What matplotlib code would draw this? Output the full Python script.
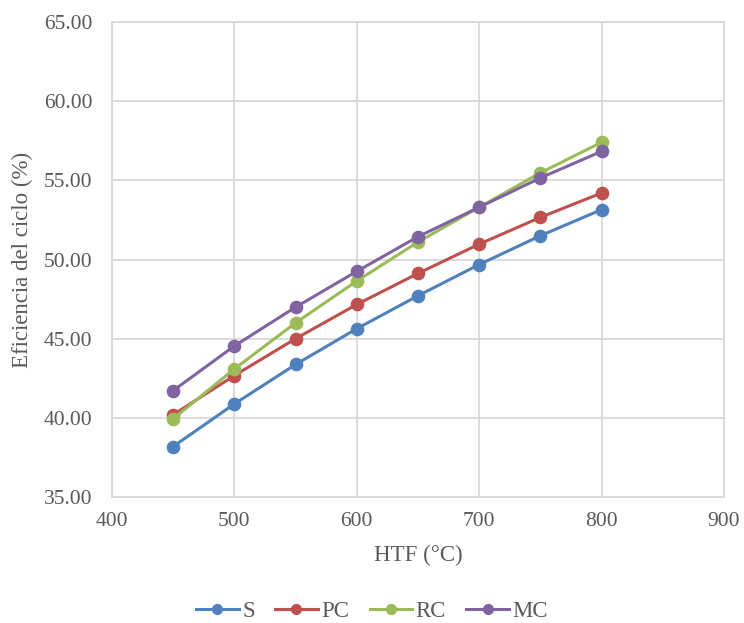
import numpy as np
import matplotlib
matplotlib.use('Agg')
import matplotlib.pyplot as plt

plt.rcParams['font.family'] = ['Liberation Serif', 'DejaVu Serif']

# data
htf = [450, 500, 550, 600, 650, 700, 750, 800]
eff_s = [38.19, 40.88, 43.37, 45.63, 47.71, 49.68, 51.50, 53.15]
eff_pc = [40.20, 42.67, 45.00, 47.16, 49.12, 50.97, 52.66, 54.20]
eff_rc = [39.94, 43.09, 46.00, 48.64, 51.10, 53.30, 55.47, 57.40]
eff_mc = [41.72, 44.54, 46.99, 49.25, 51.44, 53.30, 55.15, 56.83]

series = [("S", eff_s, "#4F81BD"),
          ("PC", eff_pc, "#C0504D"),
          ("RC", eff_rc, "#9BBB59"),
          ("MC", eff_mc, "#8064A2")]

x_ticks = [400, 500, 600, 700, 800, 900]
y_ticks = [35, 40, 45, 50, 55, 60, 65]

fig = plt.figure(figsize=(7.44, 6.23), dpi=100)
ax = fig.add_axes([0.1505, 0.2022, 0.8225, 0.7625])

for name, vals, col in series:
    ax.plot(htf, vals, color=col, linewidth=2.2, marker='o', markersize=8.8,
            label=name, zorder=3)

ax.set_xlim(400, 900)
ax.set_ylim(35, 65)
ax.set_xticks(x_ticks)
ax.set_yticks(y_ticks)
ax.set_yticklabels(["%.2f" % v for v in y_ticks])
ax.tick_params(axis='y', length=0, labelsize=15.5, colors='#595959', pad=14)
ax.tick_params(axis='x', length=0, labelsize=15.5, colors='#595959', pad=11)
ax.grid(color='#d9d9d9', linewidth=1.3)
for sp in ax.spines.values():
    sp.set_color('#d9d9d9')
    sp.set_linewidth(1.3)

ax.set_xlabel("HTF (°C)", fontsize=16.5, color='#595959', va='center')
ax.set_ylabel("Eficiencia del ciclo (%)", fontsize=16.5, color='#595959',
              va='center', ha='center')
ax.xaxis.set_label_coords(0.5, -0.122)
ax.yaxis.set_label_coords(-0.147, 0.5)

fig.legend(loc='center', bbox_to_anchor=(0.5, 0.019), ncol=4, frameon=False,
           fontsize=16.5, labelcolor='#595959', handlelength=1.85,
           columnspacing=0.9, handletextpad=0.15, markerscale=0.8)

fig.savefig('out.png', dpi=100)
